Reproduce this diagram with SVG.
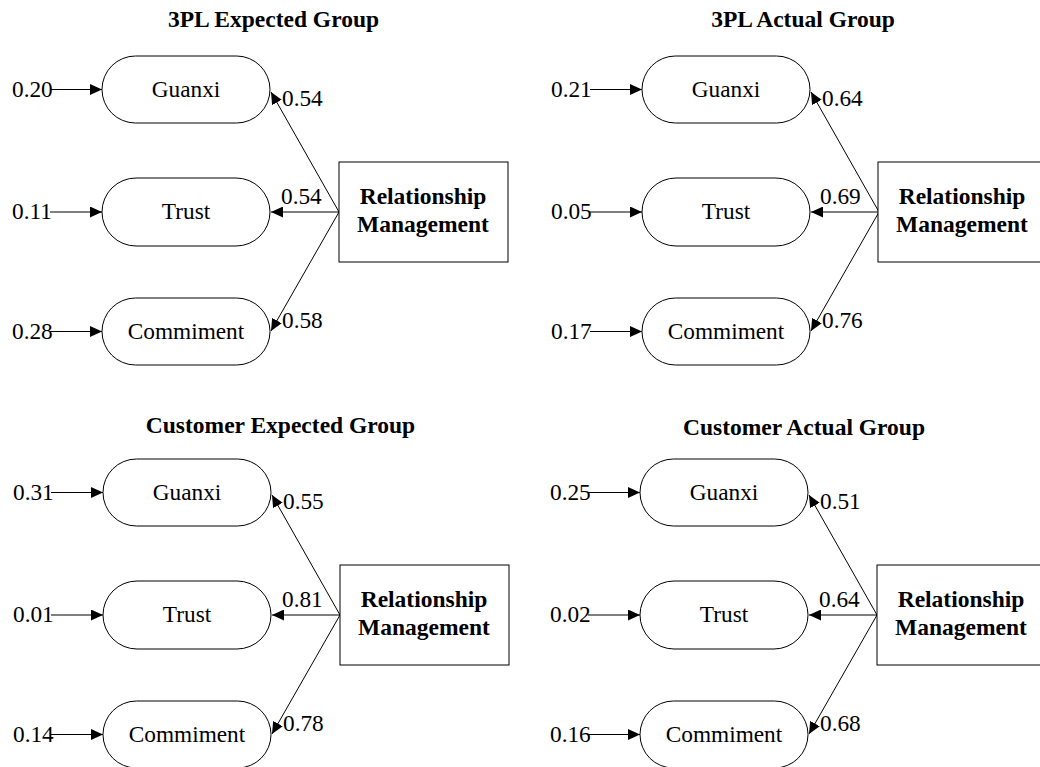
<svg xmlns="http://www.w3.org/2000/svg" width="1040" height="767" viewBox="0 0 1040 767">
  <style>
    .bg { fill: #ffffff; }
    .latent { fill: #ffffff; stroke: #000000; stroke-width: 1; }
    .box { fill: #ffffff; stroke: #000000; stroke-width: 1; }
    .edge { stroke: #000000; stroke-width: 1; fill: none; marker-end: url(#arrow); }
    .lbl { font-family: "Liberation Serif", "Times New Roman", serif; font-size: 23.3px; fill: #000000; }
    .node-text { font-family: "Liberation Serif", "Times New Roman", serif; font-size: 23.3px; fill: #000000; text-anchor: middle; }
    .box-text { font-family: "Liberation Serif", "Times New Roman", serif; font-size: 23.5px; font-weight: bold; fill: #000000; text-anchor: middle; }
    .title { font-family: "Liberation Serif", "Times New Roman", serif; font-size: 23.5px; font-weight: bold; fill: #000000; text-anchor: middle; }
  </style>
  <defs>
    <marker id="arrow" markerUnits="userSpaceOnUse" markerWidth="13" markerHeight="11" refX="12" refY="5.5" orient="auto">
      <path d="M0,0 L12,5.5 L0,11 Z" fill="#000000"/>
    </marker>
  </defs>

  <rect class="bg" x="0" y="0" width="1040" height="767"/>

  <!-- Panel 1: 3PL Expected Group -->
  <g id="panel-3pl-expected">
    <text class="title" x="273.5" y="27">3PL Expected Group</text>
    <g id="connectors-3pl-expected">
      <line class="edge" x1="50" y1="89.5" x2="102" y2="89.5"/>
      <line class="edge" x1="50" y1="212" x2="102" y2="212"/>
      <line class="edge" x1="50" y1="331.5" x2="102" y2="331.5"/>
      <line class="edge" x1="339" y1="212" x2="271" y2="92"/>
      <line class="edge" x1="339" y1="212" x2="271" y2="212"/>
      <line class="edge" x1="339" y1="212" x2="271" y2="331"/>
      <text class="lbl" x="12" y="97">0.20</text>
      <text class="lbl" x="12" y="219">0.11</text>
      <text class="lbl" x="12" y="339">0.28</text>
      <text class="lbl" x="282" y="106">0.54</text>
      <text class="lbl" x="281" y="204">0.54</text>
      <text class="lbl" x="282" y="328">0.58</text>
    </g>
    <g id="e-guanxi"><rect class="latent" x="102" y="56" width="168" height="67" rx="33.5" ry="33.5"/><text class="node-text" x="186" y="97">Guanxi</text></g>
    <g id="e-trust"><rect class="latent" x="102" y="178" width="168" height="68" rx="34" ry="34"/><text class="node-text" x="186" y="219">Trust</text></g>
    <g id="e-commitment"><rect class="latent" x="102" y="298" width="168" height="67" rx="33.5" ry="33.5"/><text class="node-text" x="186" y="339">Commiment</text></g>
    <g id="e-relationship"><rect class="box" x="339" y="162" width="169" height="100"/><text class="box-text" x="423" y="204">Relationship</text><text class="box-text" x="423" y="232">Management</text></g>
  </g>

  <!-- Panel 2: 3PL Actual Group -->
  <g id="panel-3pl-actual">
    <text class="title" x="803" y="27">3PL Actual Group</text>
    <g transform="translate(540,0)">
      <g id="connectors-3pl-actual">
        <line class="edge" x1="50" y1="89.5" x2="102" y2="89.5"/>
        <line class="edge" x1="50" y1="212" x2="102" y2="212"/>
        <line class="edge" x1="50" y1="331.5" x2="102" y2="331.5"/>
        <line class="edge" x1="339" y1="212" x2="271" y2="92"/>
        <line class="edge" x1="339" y1="212" x2="271" y2="212"/>
        <line class="edge" x1="339" y1="212" x2="271" y2="331"/>
        <text class="lbl" x="11" y="97">0.21</text>
        <text class="lbl" x="11" y="219">0.05</text>
        <text class="lbl" x="11" y="339">0.17</text>
        <text class="lbl" x="282" y="106">0.64</text>
        <text class="lbl" x="280" y="204">0.69</text>
        <text class="lbl" x="282" y="328">0.76</text>
      </g>
      <g id="a-guanxi"><rect class="latent" x="102" y="56" width="168" height="67" rx="33.5" ry="33.5"/><text class="node-text" x="186" y="97">Guanxi</text></g>
      <g id="a-trust"><rect class="latent" x="102" y="178" width="168" height="68" rx="34" ry="34"/><text class="node-text" x="186" y="219">Trust</text></g>
      <g id="a-commitment"><rect class="latent" x="102" y="298" width="168" height="67" rx="33.5" ry="33.5"/><text class="node-text" x="186" y="339">Commiment</text></g>
      <g id="a-relationship"><rect class="box" x="338" y="162" width="169" height="100"/><text class="box-text" x="422" y="204">Relationship</text><text class="box-text" x="422" y="232">Management</text></g>
    </g>
  </g>

  <!-- Panel 3: Customer Expected Group -->
  <g id="panel-customer-expected">
    <text class="title" x="280.5" y="433">Customer Expected Group</text>
    <g transform="translate(1,403)">
      <g id="connectors-customer-expected">
        <line class="edge" x1="50" y1="89.5" x2="102" y2="89.5"/>
        <line class="edge" x1="50" y1="212" x2="102" y2="212"/>
        <line class="edge" x1="50" y1="331.5" x2="102" y2="331.5"/>
        <line class="edge" x1="339" y1="212" x2="271" y2="92"/>
        <line class="edge" x1="339" y1="212" x2="271" y2="212"/>
        <line class="edge" x1="339" y1="212" x2="271" y2="331"/>
        <text class="lbl" x="12" y="97">0.31</text>
        <text class="lbl" x="12" y="219">0.01</text>
        <text class="lbl" x="12" y="339">0.14</text>
        <text class="lbl" x="282" y="106">0.55</text>
        <text class="lbl" x="281" y="204">0.81</text>
        <text class="lbl" x="282" y="328">0.78</text>
      </g>
      <g id="ce-guanxi"><rect class="latent" x="102" y="56" width="168" height="67" rx="33.5" ry="33.5"/><text class="node-text" x="186" y="97">Guanxi</text></g>
      <g id="ce-trust"><rect class="latent" x="102" y="178" width="168" height="68" rx="34" ry="34"/><text class="node-text" x="186" y="219">Trust</text></g>
      <g id="ce-commitment"><rect class="latent" x="102" y="298" width="168" height="67" rx="33.5" ry="33.5"/><text class="node-text" x="186" y="339">Commiment</text></g>
      <g id="ce-relationship"><rect class="box" x="339" y="162" width="169" height="100"/><text class="box-text" x="423" y="204">Relationship</text><text class="box-text" x="423" y="232">Management</text></g>
    </g>
  </g>

  <!-- Panel 4: Customer Actual Group -->
  <g id="panel-customer-actual">
    <text class="title" x="804" y="435">Customer Actual Group</text>
    <g transform="translate(538,403)">
      <g id="connectors-customer-actual">
        <line class="edge" x1="50" y1="89.5" x2="102" y2="89.5"/>
        <line class="edge" x1="50" y1="212" x2="102" y2="212"/>
        <line class="edge" x1="50" y1="331.5" x2="102" y2="331.5"/>
        <line class="edge" x1="339" y1="212" x2="271" y2="92"/>
        <line class="edge" x1="339" y1="212" x2="271" y2="212"/>
        <line class="edge" x1="339" y1="212" x2="271" y2="331"/>
        <text class="lbl" x="12" y="97">0.25</text>
        <text class="lbl" x="12" y="219">0.02</text>
        <text class="lbl" x="12" y="339">0.16</text>
        <text class="lbl" x="282" y="106">0.51</text>
        <text class="lbl" x="281" y="204">0.64</text>
        <text class="lbl" x="282" y="328">0.68</text>
      </g>
      <g id="ca-guanxi"><rect class="latent" x="102" y="56" width="168" height="67" rx="33.5" ry="33.5"/><text class="node-text" x="186" y="97">Guanxi</text></g>
      <g id="ca-trust"><rect class="latent" x="102" y="178" width="168" height="68" rx="34" ry="34"/><text class="node-text" x="186" y="219">Trust</text></g>
      <g id="ca-commitment"><rect class="latent" x="102" y="298" width="168" height="67" rx="33.5" ry="33.5"/><text class="node-text" x="186" y="339">Commiment</text></g>
      <g id="ca-relationship"><rect class="box" x="339" y="162" width="169" height="100"/><text class="box-text" x="423" y="204">Relationship</text><text class="box-text" x="423" y="232">Management</text></g>
    </g>
  </g>
</svg>
